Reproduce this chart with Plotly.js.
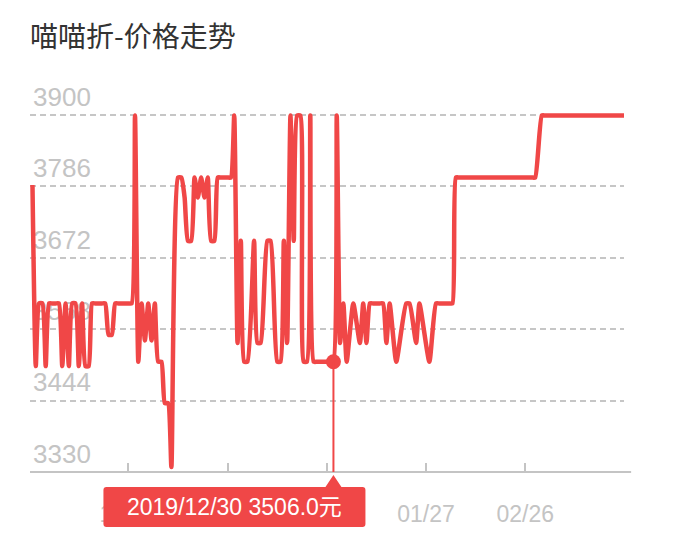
<!DOCTYPE html>
<html>
<head>
<meta charset="utf-8">
<script src="https://cdn.plot.ly/plotly-3.0.1.min.js"></script>
<style>
  html, body { margin: 0; padding: 0; background: #fff; }
  #chart { width: 688px; height: 539px; }
</style>
</head>
<body>
<div id="chart"></div>
<script>
// price history (one entry per day, days in between where the price was moving are left out)
var dates = [
  '2019-09-30',
  '2019-10-01','2019-10-02','2019-10-03','2019-10-04','2019-10-05','2019-10-06','2019-10-07','2019-10-08',
  '2019-10-09','2019-10-10','2019-10-11','2019-10-12','2019-10-13','2019-10-14','2019-10-15','2019-10-16',
  '2019-10-17','2019-10-18','2019-10-19','2019-10-20','2019-10-21','2019-10-22','2019-10-23','2019-10-24',
  '2019-10-25','2019-10-26','2019-10-27','2019-10-28','2019-10-29','2019-10-30','2019-10-31',
  '2019-11-01','2019-11-02','2019-11-03','2019-11-04','2019-11-05','2019-11-06','2019-11-07','2019-11-08',
  '2019-11-09','2019-11-10','2019-11-11','2019-11-13','2019-11-14','2019-11-15','2019-11-16','2019-11-17',
  '2019-11-18','2019-11-19','2019-11-20','2019-11-21','2019-11-22','2019-11-23','2019-11-24','2019-11-25',
  '2019-11-26','2019-11-27','2019-11-28','2019-11-29','2019-11-30',
  '2019-12-01','2019-12-02','2019-12-03','2019-12-04','2019-12-06','2019-12-07','2019-12-08','2019-12-10',
  '2019-12-11','2019-12-13','2019-12-14','2019-12-15','2019-12-16','2019-12-17','2019-12-18','2019-12-19',
  '2019-12-20','2019-12-21','2019-12-22','2019-12-23','2019-12-24','2019-12-25','2019-12-26','2019-12-27',
  '2019-12-28','2019-12-29','2019-12-30','2019-12-31',
  '2020-01-01','2020-01-02','2020-01-03','2020-01-05','2020-01-07','2020-01-08','2020-01-09','2020-01-10',
  '2020-01-11','2020-01-12','2020-01-13','2020-01-14','2020-01-15','2020-01-16','2020-01-18','2020-01-21',
  '2020-01-22','2020-01-24','2020-01-25','2020-01-28','2020-01-30','2020-01-31',
  '2020-02-01','2020-02-02','2020-02-03','2020-02-04','2020-02-05','2020-02-06','2020-02-07','2020-02-08',
  '2020-02-09','2020-02-10','2020-02-11','2020-02-12','2020-02-13','2020-02-14','2020-02-15','2020-02-16',
  '2020-02-17','2020-02-18','2020-02-19','2020-02-20','2020-02-21','2020-02-22','2020-02-23','2020-02-24',
  '2020-02-25','2020-02-26','2020-02-27','2020-02-28','2020-02-29',
  '2020-03-02','2020-03-03','2020-03-04','2020-03-05','2020-03-06','2020-03-07','2020-03-08','2020-03-09',
  '2020-03-10','2020-03-11','2020-03-12','2020-03-13','2020-03-14','2020-03-15','2020-03-16','2020-03-17',
  '2020-03-18','2020-03-19','2020-03-20','2020-03-21','2020-03-22','2020-03-23','2020-03-24','2020-03-25',
  '2020-03-26','2020-03-27'
];
var prices = [
  3788,
  3499,3599,3599,3499,3599,3599,3599,3599,
  3499,3599,3499,3599,3599,3499,3599,3499,
  3499,3599,3599,3599,3599,3599,3549,3549,
  3599,3599,3599,3599,3599,3599,3899,
  3506,3599,3540,3599,3540,3599,3506,3506,
  3440,3440,3338,3800,3800,3768,3699,3699,
  3800,3768,3800,3768,3800,3699,3699,3800,
  3800,3800,3800,3800,3899,
  3536,3699,3506,3506,3699,3536,3536,3699,
  3699,3506,3506,3699,3536,3899,3699,3899,
  3899,3506,3506,3899,3506,3506,3506,3506,
  3506,3506,3506,3899,
  3536,3599,3506,3599,3536,3599,3536,3599,
  3599,3599,3599,3599,3536,3599,3506,3599,
  3599,3536,3599,3506,3599,3599,
  3599,3599,3599,3599,3800,3800,3800,3800,
  3800,3800,3800,3800,3800,3800,3800,3800,
  3800,3800,3800,3800,3800,3800,3800,3800,
  3800,3800,3800,3800,3800,
  3899,3899,3899,3899,3899,3899,3899,3899,
  3899,3899,3899,3899,3899,3899,3899,3899,
  3899,3899,3899,3899,3899,3899,3899,3899,
  3899,3899
];
// axis ticks
var yTicks = [3330, 3444, 3558, 3672, 3786, 3900];
var xTicks = ['2019-10-29', '2019-11-28', '2019-12-28', '2020-01-27', '2020-02-26'];
var xTickText = ['10/29', '11/28', '12/28', '01/27', '02/26'];
// the day picked in the tooltip
var pickedDate = '2019-12-30';

var RED = '#f04747';
var GREY = '#c4c4c4';
var pick = dates.indexOf(pickedDate);
var tipText = dates[pick].replace(/-/g, '/') + ' ' + prices[pick].toFixed(1) + '元';

var data = [
  {
    x: dates,
    y: prices,
    type: 'scatter',
    mode: 'lines',
    line: {color: RED, width: 4.5, shape: 'spline', smoothing: 0.5},
    hoverinfo: 'skip'
  },
  {
    x: [dates[pick]],
    y: [prices[pick]],
    type: 'scatter',
    mode: 'markers',
    marker: {color: RED, size: 15},
    cliponaxis: false,
    hoverinfo: 'skip'
  }
];

var layout = {
  width: 688,
  height: 539,
  // top margin leaves room for the 3900 label that sits above its grid line
  margin: {l: 30, r: 64, t: 71, b: 67},
  paper_bgcolor: '#fff',
  plot_bgcolor: '#fff',
  showlegend: false,
  font: {family: 'Liberation Sans, Noto Sans CJK SC, sans-serif'},
  title: {
    text: '喵喵折-价格走势',
    xref: 'container', yref: 'container',
    x: 30 / 688, xanchor: 'left',
    y: 1 - 37 / 539, yanchor: 'middle',
    font: {family: 'Noto Sans CJK SC', size: 28, color: '#333'}
  },
  xaxis: {
    type: 'date',
    range: ['2019-09-29 06:00', '2020-03-26 20:30'],
    tickvals: xTicks,
    ticktext: xTickText,
    ticks: 'inside',
    ticklen: 9,
    tickwidth: 2,
    tickcolor: GREY,
    showline: false,
    showgrid: false,
    zeroline: false,
    ticklabelstandoff: 26,
    tickfont: {size: 23, color: GREY}
  },
  yaxis: {
    range: [3330, 3970],
    tickvals: yTicks,
    ticks: '',
    ticklabelposition: 'inside top',
    tickfont: {size: 26, color: GREY},
    showline: false,
    zeroline: false,
    showgrid: true,
    gridcolor: '#c6c6c6',
    gridwidth: 2,
    griddash: '6px,4px',
    layer: 'below traces'
  },
  shapes: [
    // x axis line, runs a little past the grid
    {
      type: 'line', xref: 'paper', yref: 'paper',
      x0: 0, x1: 1.012, y0: 0, y1: 0,
      line: {color: GREY, width: 2},
      layer: 'below'
    },
    // drop line from the picked point to the axis
    {
      type: 'line', xref: 'x', yref: 'y',
      x0: dates[pick], x1: dates[pick], y0: yTicks[0], y1: prices[pick],
      line: {color: RED, width: 2}
    },
    // tooltip box with its pointer, drawn in pixels under the axis
    {
      type: 'path', xref: 'x', yref: 'paper',
      xsizemode: 'pixel', ysizemode: 'pixel',
      xanchor: dates[pick], yanchor: 0,
      path: 'M -227,-15 L -8,-15 L 0,-3 L 8,-15 L 29,-15 Q 32,-15 32,-18 L 32,-52 Q 32,-55 29,-55 ' +
            'L -227,-55 Q -230,-55 -230,-52 L -230,-18 Q -230,-15 -227,-15 Z',
      fillcolor: RED,
      line: {width: 0}
    }
  ],
  annotations: [
    {
      text: tipText,
      xref: 'x', yref: 'paper',
      x: dates[pick], y: 0,
      xanchor: 'center', yanchor: 'middle',
      xshift: -99, yshift: -35,
      showarrow: false,
      font: {family: 'Liberation Sans, Noto Sans CJK SC', size: 23, color: '#fff'}
    }
  ]
};

var config = {
  staticPlot: true,
  displayModeBar: false
};

Plotly.newPlot('chart', data, layout, config);
</script>
</body>
</html>
